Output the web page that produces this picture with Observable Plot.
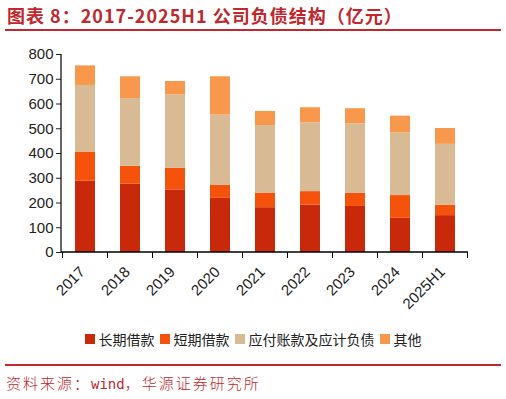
<!DOCTYPE html>
<html>
<head>
<meta charset="utf-8">
<script src="https://cdn.jsdelivr.net/npm/d3@7"></script>
<script src="https://cdn.jsdelivr.net/npm/@observablehq/plot@0.6"></script>
<style>
  html, body { margin: 0; padding: 0; background: #fff; }
  #wrap { position: relative; width: 506px; height: 399px; overflow: hidden; }
  #wrap svg { position: absolute; left: 0; top: 0; }
  .title { position: absolute; left: 7px; top: 3px; font-family: "Noto Sans CJK SC", sans-serif; font-weight: 700; font-size: 18px; letter-spacing: 1px; color: #c1272d; white-space: nowrap; line-height: 24px; }
  .rule { position: absolute; left: 5px; width: 496px; height: 2px; background: #c1272d; }
  .legend { position: absolute; left: 0; width: 506px; top: 330px; display: flex; justify-content: center; align-items: center; font-family: "Noto Sans CJK SC", sans-serif; font-size: 14px; color: #222; line-height: 18px; }
  .legend .item { display: flex; align-items: center; margin: 0 2.5px; }
  .legend .sw { width: 10px; height: 10px; margin-right: 4px; }
  .source { position: absolute; left: 6px; top: 372px; font-family: "Noto Sans CJK SC", sans-serif; font-weight: 300; font-size: 15px; letter-spacing: 2px; color: #c1272d; white-space: nowrap; line-height: 22px; }
  .source .mono { font-family: "DejaVu Sans Mono", "Liberation Mono", monospace; letter-spacing: 0; font-size: 14px; }
</style>
</head>
<body>
<div id="wrap">
  <div class="title">图表 8：2017-2025H1 公司负债结构（亿元）</div>
  <div class="rule" style="top:29px"></div>
  <div class="legend" id="legend"></div>
  <div class="rule" style="top:364px"></div>
  <div class="source">资料来源：<span class="mono">wind</span>，华源证券研究所</div>
</div>
<script>
// Reporting periods
const periods = ["2017", "2018", "2019", "2020", "2021", "2022", "2023", "2024", "2025H1"];

// Liability components, 亿元
const longTermLoans   = [288, 276, 253, 219, 181, 192, 186, 138, 149];
const shortTermLoans  = [118,  72,  87,  53,  59,  54,  53,  92,  42];
const payablesAccrued = [269, 274, 297, 283, 273, 278, 281, 253, 246];
const otherLiab       = [ 79,  88,  54, 155,  57,  61,  61,  68,  64];

const seriesNames  = ["长期借款", "短期借款", "应付账款及应计负债", "其他"];
const seriesValues = [longTermLoans, shortTermLoans, payablesAccrued, otherLiab];
const seriesColors = ["#c8290b", "#f5520c", "#d8bb95", "#f7984c"];

const yTicks = [0, 100, 200, 300, 400, 500, 600, 700, 800];

// Long format table, bottom segment first so stacking follows series order
const rows = [];
seriesNames.forEach((name, s) => {
  periods.forEach((p, i) => rows.push({period: p, series: name, value: seriesValues[s][i]}));
});

const chart = Plot.plot({
  width: 506,
  height: 326,
  marginLeft: 61,
  marginRight: 38,
  marginTop: 54,
  marginBottom: 74,
  style: {fontFamily: "'Liberation Sans', Arial, sans-serif", fontSize: "15px", color: "#222", background: "transparent"},
  x: {domain: periods, paddingInner: 0.56, paddingOuter: 0.28},
  y: {domain: [0, 800]},
  color: {domain: seriesNames, range: seriesColors},
  marks: [
    Plot.barY(rows, {x: "period", y: "value", fill: "series"}),
    Plot.axisY({ticks: yTicks, tickSize: 5, tickPadding: 3, label: null, tickFormat: d => String(d)}),
    Plot.axisX({tickSize: 0, tickPadding: 8, tickRotate: -45, label: null, dx: -3, dy: 9})
  ]
});

document.getElementById("wrap").appendChild(chart);

// Axis lines and category boundary ticks drawn from the plot's own scales
const xs = chart.scale("x");
const ys = chart.scale("y");
const svg = d3.select(chart);
const x0 = xs.range[0], x1 = xs.range[1];
const yBase = ys.apply(0), yTop = ys.apply(800);
const g = svg.append("g").attr("stroke", "#000").attr("fill", "none");
g.append("line").attr("x1", x0).attr("x2", x0).attr("y1", yTop).attr("y2", yBase).attr("stroke-width", 1.2);
g.append("line").attr("x1", x0).attr("x2", x1).attr("y1", yBase).attr("y2", yBase).attr("stroke-width", 1.5);
periods.forEach((p, i) => {
  const left = xs.apply(p) + xs.bandwidth / 2 - xs.step / 2;
  g.append("line").attr("x1", left).attr("x2", left).attr("y1", yBase).attr("y2", yBase + 6);
  if (i === periods.length - 1) {
    const right = left + xs.step;
    g.append("line").attr("x1", right).attr("x2", right).attr("y1", yBase).attr("y2", yBase + 6);
  }
});

// Legend
const legend = document.getElementById("legend");
seriesNames.forEach((name, s) => {
  const item = document.createElement("div");
  item.className = "item";
  const sw = document.createElement("div");
  sw.className = "sw";
  sw.style.background = seriesColors[s];
  const label = document.createElement("span");
  label.textContent = name;
  item.appendChild(sw);
  item.appendChild(label);
  legend.appendChild(item);
});
</script>
</body>
</html>
